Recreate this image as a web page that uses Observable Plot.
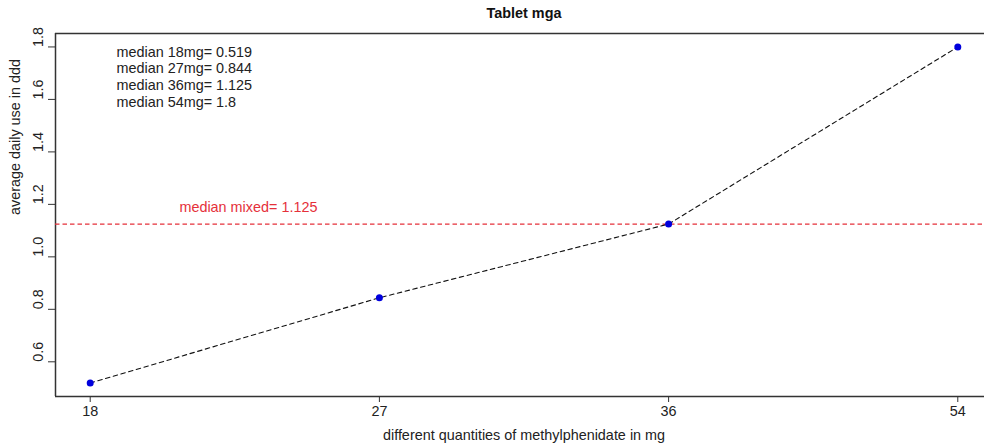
<!DOCTYPE html>
<html>
<head>
<meta charset="utf-8">
<script src="https://cdn.jsdelivr.net/npm/d3@7"></script>
<script src="https://cdn.jsdelivr.net/npm/@observablehq/plot@0.6"></script>
<style>
  html, body { margin: 0; padding: 0; background: #fff; overflow: hidden; }
  #chart svg { max-width: none !important; display: block; }
</style>
</head>
<body>
<div id="chart"></div>
<script>
// Median average daily use (in DDD) per tablet strength of methylphenidate
const doses = [18, 27, 36, 54];
const medians = [0.519, 0.844, 1.125, 1.8];
const medianMixed = 1.125;
const yTicks = [0.6, 0.8, 1.0, 1.2, 1.4, 1.6, 1.8];

const title = "Tablet mga";
const xTitle = "different quantities of methylphenidate in mg";
const yTitle = "average daily use in ddd";

// doses are plotted at equally spaced positions 1..n
const rows = doses.map((d, i) => ({pos: i + 1, dose: d, median: medians[i]}));
const summary = rows.map(r => `median ${r.dose}mg= ${r.median}`).join("\n");

const font = "'Liberation Sans', Arial, Helvetica, sans-serif";
const ink = "#333";
const fs = 14.4;
const red = "#e5303a";

// base-graphics style padding of 4% around the data range
const xPad = (doses.length - 1) * 0.04;
const xDomain = [1 - xPad, doses.length + xPad];
const yMin = d3.min(medians), yMax = d3.max(medians);
const yPad = (yMax - yMin) * 0.04;
const yDomain = [yMin - yPad, yMax + yPad];
const fmt = d3.format(".1f");

const chart = Plot.plot({
  width: 984,
  height: 446,
  marginTop: 33,
  marginBottom: 50,
  marginLeft: 55,
  marginRight: 0,
  style: {fontFamily: font, fontSize: fs + "px"},
  // the plotting region runs a little past the right edge of the page
  x: {type: "linear", domain: xDomain, range: [55, 992]},
  y: {domain: yDomain},
  marks: [
    // box on the left, top and bottom
    Plot.ruleX([xDomain[0]], {stroke: ink, strokeWidth: 1.5}),
    Plot.ruleY(yDomain, {stroke: ink, strokeWidth: 1.5}),
    Plot.axisX({
      ticks: rows.map(r => r.pos),
      tickFormat: p => doses[p - 1],
      tickSize: 6,
      tickPadding: 3,
      stroke: ink,
      fill: "#222",
      fontSize: fs,
      label: null
    }),
    Plot.axisY({
      ticks: yTicks,
      tickFormat: () => "",
      tickSize: 7,
      stroke: ink,
      label: null
    }),
    // y tick labels, turned to run along the axis
    Plot.text(yTicks, {
      y: d => d, frameAnchor: "left", dx: -17, rotate: -90,
      text: d => fmt(d), fontSize: fs, fill: "#222"
    }),
    Plot.ruleY([medianMixed], {stroke: red, strokeWidth: 1.2, strokeDasharray: "4.5,3"}),
    Plot.line(rows, {x: "pos", y: "median", stroke: "#111", strokeWidth: 1.1, strokeDasharray: "4.5,3.5"}),
    Plot.dot(rows, {x: "pos", y: "median", r: 3.5, fill: "#0000dd", stroke: "none"}),
    Plot.text([medianMixed], {
      x: 1.547, y: 1.19,
      text: d => `median mixed= ${d}`,
      fill: red, fontSize: fs
    }),
    Plot.text([summary], {
      frameAnchor: "top-left", dx: 61, dy: 11.2,
      text: d => d, textAnchor: "start", lineAnchor: "top",
      lineHeight: 1.16, fontSize: fs, fill: "#222"
    }),
    Plot.text([title], {
      x: d3.mean(xDomain), frameAnchor: "top", dy: -20, lineAnchor: "middle",
      text: d => d, fontWeight: "bold", fontSize: fs, fill: "#111"
    }),
    Plot.text([xTitle], {
      x: d3.mean(xDomain), frameAnchor: "bottom", dy: 39, lineAnchor: "middle",
      text: d => d, fontSize: fs, fill: "#222"
    }),
    Plot.text([yTitle], {
      frameAnchor: "left", dx: -40, rotate: -90, text: d => d,
      fontSize: fs, fill: "#222"
    })
  ]
});

document.getElementById("chart").append(chart);
</script>
</body>
</html>
